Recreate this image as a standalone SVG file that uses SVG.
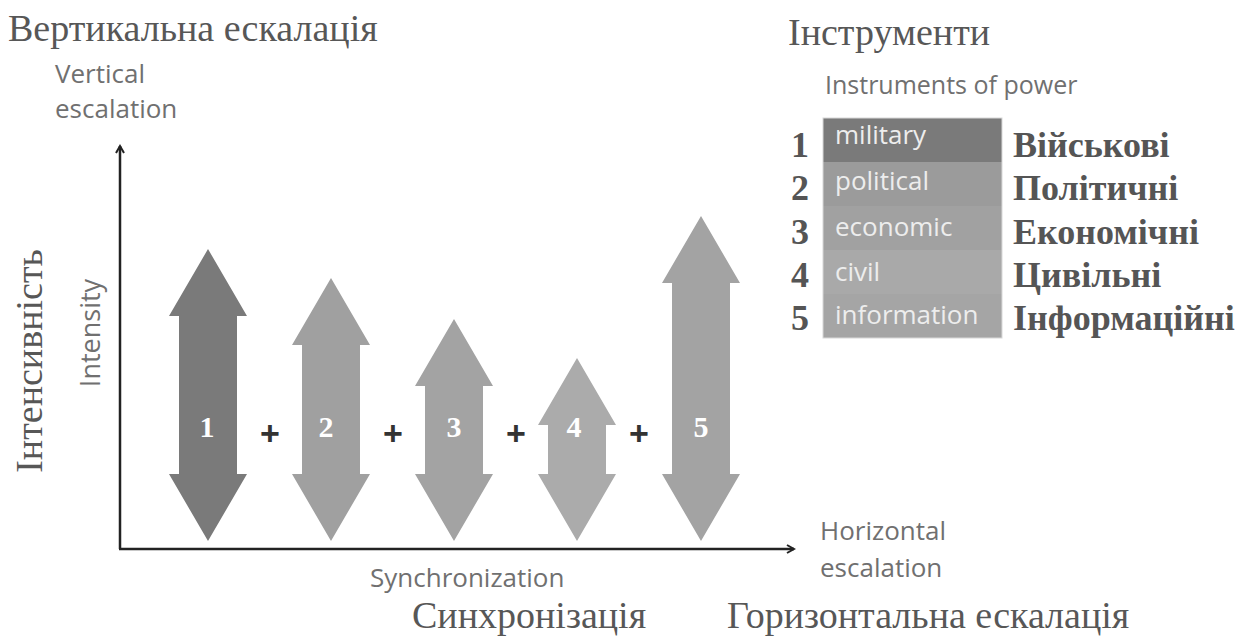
<svg xmlns="http://www.w3.org/2000/svg" width="1257" height="637" viewBox="0 0 1257 637">
<style>
.ua{font-family:"Liberation Serif","Times New Roman",serif;font-size:38px;fill:#575757}
.en{font-family:"Open Sans","Noto Sans",sans-serif;font-size:26px;fill:#707070}
.num{font-family:"Liberation Serif",serif;font-size:30px;font-weight:bold;fill:#fff;text-anchor:middle}
.plus{font-family:"Liberation Sans",sans-serif;font-size:34px;font-weight:bold;fill:#333;text-anchor:middle}
.lab{font-family:"Liberation Serif",serif;font-size:36px;font-weight:bold;fill:#555}
.cell{font-family:"Open Sans","Noto Sans",sans-serif;font-size:26px;fill:#ededed}
.axis{stroke:#222;stroke-width:2.5;fill:none}
</style>
<defs>
<marker id="ah" viewBox="0 0 10 10" refX="8" refY="5" markerWidth="4" markerHeight="4" orient="auto" markerUnits="strokeWidth">
<path d="M1,1 L8,5 L1,9" fill="none" stroke="#222" stroke-width="2"/>
</marker>
</defs>
<rect width="1257" height="637" fill="#fff"/>
<g id="titles">
<text class="ua" x="8" y="41">Вертикальна ескалація</text>
<text class="en" x="55" y="83">Vertical</text>
<text class="en" x="55" y="118">escalation</text>
<text class="ua" x="788" y="45">Інструменти</text>
<text class="en" x="825" y="94" style="font-size:25px">Instruments of power</text>
<text class="ua" transform="translate(42,361) rotate(-90)" text-anchor="middle">Інтенсивність</text>
<text class="en" transform="translate(100,333) rotate(-90)" text-anchor="middle" style="font-size:27px">Intensity</text>
<text class="en" x="820" y="540">Horizontal</text>
<text class="en" x="820" y="577">escalation</text>
<text class="en" x="370" y="587">Synchronization</text>
<text class="ua" x="412" y="628">Синхронізація</text>
<text class="ua" x="727" y="628">Горизонтальна ескалація</text>
</g>
<g id="connectors">
<path class="axis" d="M120,549 L120,146" marker-end="url(#ah)"/>
<path class="axis" d="M119,549 L794,549" marker-end="url(#ah)"/>
</g>
<g id="arrow1">
<path fill="#7a7a7a" d="M208,249 L247,316 L237,316 L237,474 L247,474 L208,541 L169,474 L179,474 L179,316 L169,316 Z"/>
<text class="num" x="207" y="437">1</text>
</g>
<g id="arrow2">
<path fill="#a0a0a0" d="M331,278 L370,345 L360,345 L360,474 L370,474 L331,541 L292,474 L302,474 L302,345 L292,345 Z"/>
<text class="num" x="326" y="437">2</text>
</g>
<g id="arrow3">
<path fill="#a3a3a3" d="M454,319 L493,386 L483,386 L483,474 L493,474 L454,541 L415,474 L425,474 L425,386 L415,386 Z"/>
<text class="num" x="454" y="437">3</text>
</g>
<g id="arrow4">
<path fill="#ababab" d="M577,358 L616,425 L606,425 L606,474 L616,474 L577,541 L538,474 L548,474 L548,425 L538,425 Z"/>
<text class="num" x="574" y="437">4</text>
</g>
<g id="arrow5">
<path fill="#a3a3a3" d="M701,216 L740,283 L730,283 L730,474 L740,474 L701,541 L662,474 L672,474 L672,283 L662,283 Z"/>
<text class="num" x="701" y="437">5</text>
</g>
<g id="plus">
<text class="plus" x="270" y="445">+</text>
<text class="plus" x="393" y="445">+</text>
<text class="plus" x="516" y="445">+</text>
<text class="plus" x="639" y="445">+</text>
</g>
<g id="legend">
<rect x="823" y="118" width="179" height="44" fill="#7a7a7a"/>
<rect x="823" y="162" width="179" height="44" fill="#9b9b9b"/>
<rect x="823" y="206" width="179" height="44" fill="#a1a1a1"/>
<rect x="823" y="250" width="179" height="44" fill="#a9a9a9"/>
<rect x="823" y="294" width="179" height="44" fill="#a5a5a5"/>
<rect x="823" y="118" width="179" height="220" fill="none" stroke="#d8d8d8" stroke-width="1"/>
<text class="cell" x="835" y="144">military</text>
<text class="cell" x="835" y="190">political</text>
<text class="cell" x="835" y="236">economic</text>
<text class="cell" x="835" y="281">civil</text>
<text class="cell" x="835" y="324">information</text>
<text class="lab" x="800" y="157" text-anchor="middle">1</text>
<text class="lab" x="800" y="200" text-anchor="middle">2</text>
<text class="lab" x="800" y="244" text-anchor="middle">3</text>
<text class="lab" x="800" y="287" text-anchor="middle">4</text>
<text class="lab" x="800" y="330" text-anchor="middle">5</text>
<text class="lab" x="1013" y="157">Військові</text>
<text class="lab" x="1013" y="200">Політичні</text>
<text class="lab" x="1013" y="244">Економічні</text>
<text class="lab" x="1013" y="287">Цивільні</text>
<text class="lab" x="1013" y="330">Інформаційні</text>
</g>
</svg>
